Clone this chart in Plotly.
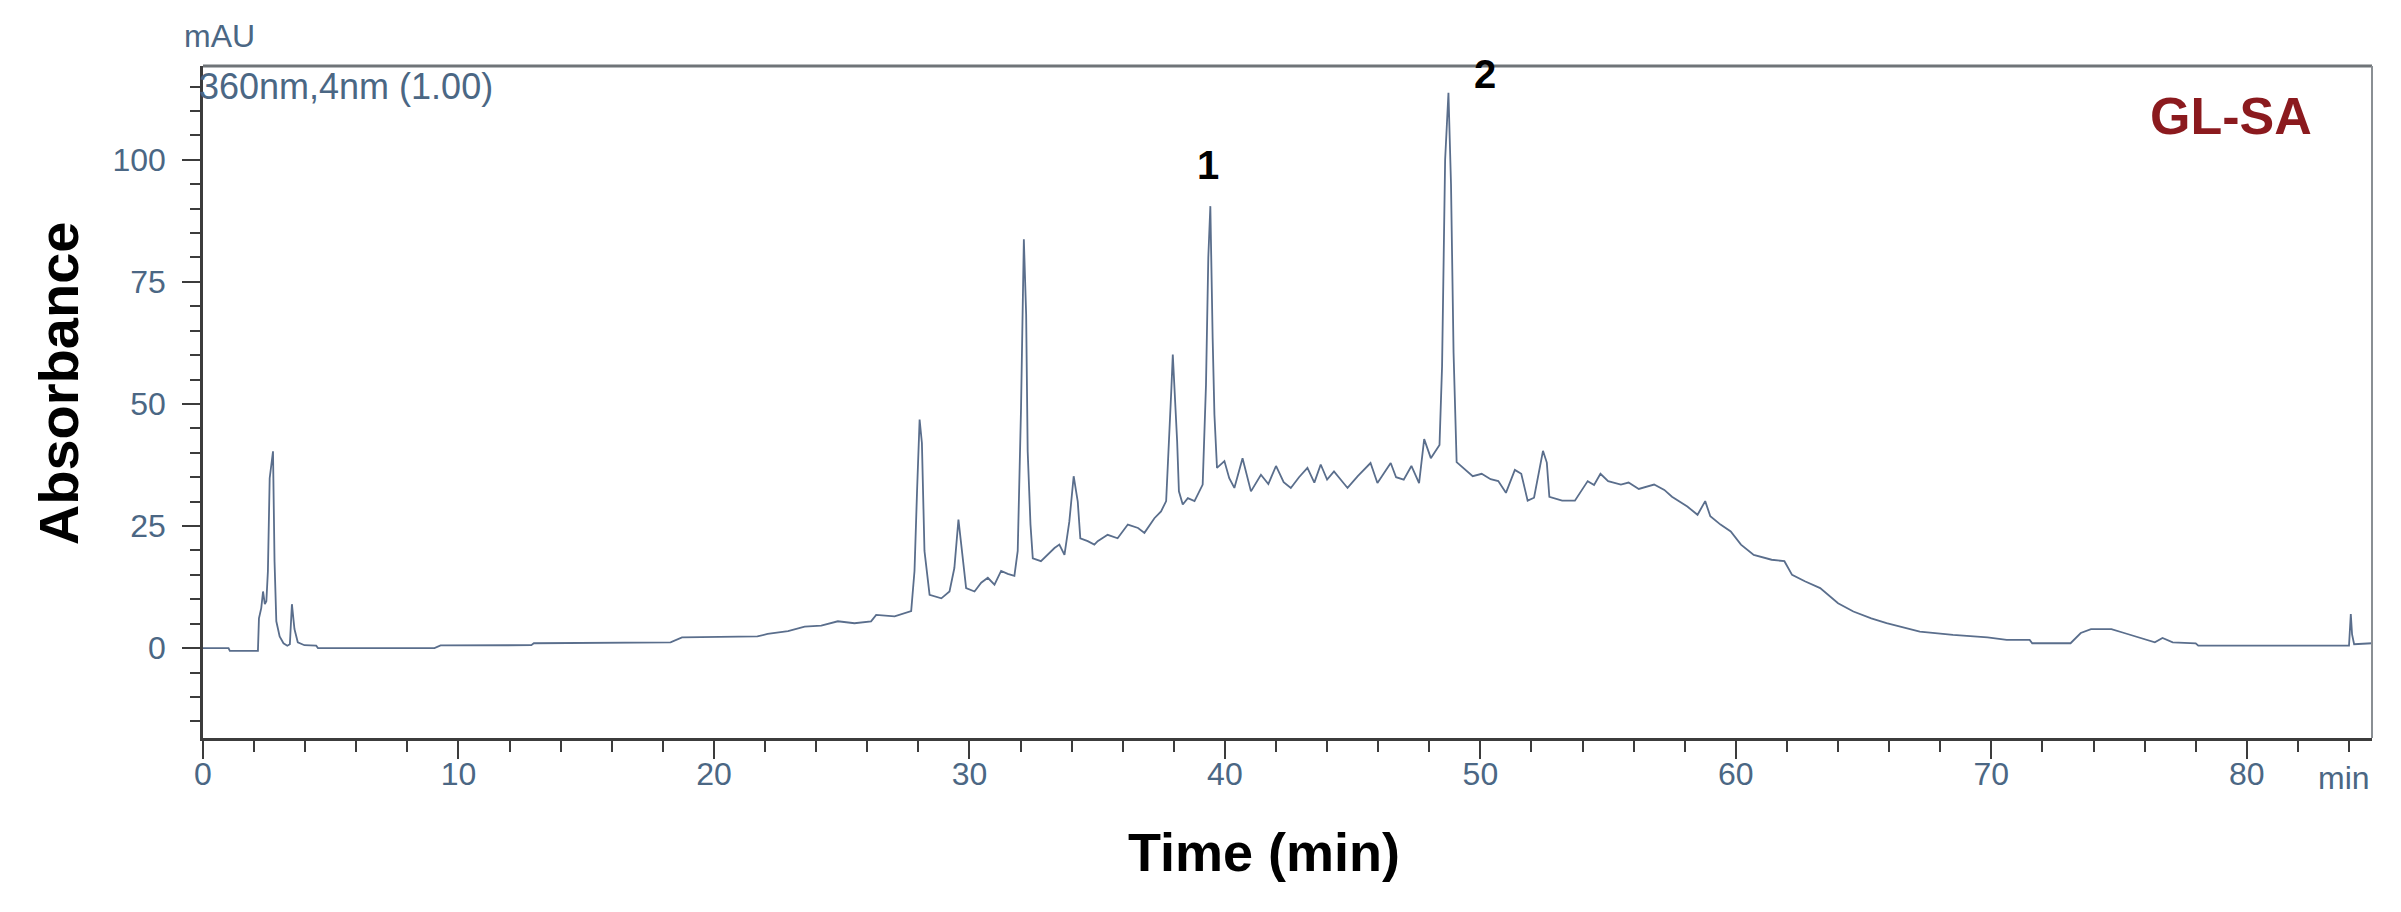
import plotly.graph_objects as go

# chromatogram: retention time (min) and absorbance (mAU)
time_min = [
    0.0, 1.0, 1.05, 2.15, 2.19, 2.28, 2.35, 2.42, 2.48, 2.54, 2.61, 2.74, 2.80, 2.87,
    3.00, 3.15, 3.30, 3.40, 3.48, 3.58, 3.71, 3.97, 4.43, 4.50, 9.06, 9.30, 12.85,
    12.95, 18.3, 18.75, 21.7, 22.1, 22.9, 23.55, 24.2, 24.85, 25.5, 26.15, 26.35,
    27.07, 27.72, 27.85, 27.95, 28.05, 28.14, 28.24, 28.44, 28.9, 29.22, 29.41,
    29.57, 29.67, 29.87, 30.2, 30.46, 30.72, 30.98, 31.24, 31.5, 31.76, 31.89,
    32.02, 32.13, 32.22, 32.28, 32.39, 32.48, 32.8, 33.07, 33.33, 33.52, 33.72,
    33.91, 34.08, 34.24, 34.34, 34.63, 34.89, 35.02, 35.41, 35.8, 36.2, 36.6,
    36.85, 37.24, 37.5, 37.7, 37.8, 37.9, 37.96, 38.05, 38.13, 38.2, 38.35, 38.55,
    38.81, 39.13, 39.26, 39.35, 39.43, 39.52, 39.59, 39.69, 39.98, 40.17, 40.37,
    40.69, 41.02, 41.41, 41.7, 42.0, 42.3, 42.58, 42.9, 43.23, 43.5, 43.75, 44.0,
    44.27, 44.5, 44.8, 45.2, 45.7, 45.97, 46.2, 46.49, 46.7, 47.0, 47.3, 47.6, 47.8,
    48.06, 48.4, 48.5, 48.62, 48.75, 48.85, 48.95, 49.07, 49.4, 49.7, 50.05, 50.4,
    50.7, 51.0, 51.35, 51.6, 51.85, 52.1, 52.45, 52.6, 52.7, 53.2, 53.7, 54.2,
    54.45, 54.7, 55.0, 55.5, 55.8, 56.2, 56.8, 57.2, 57.5, 58.1, 58.5, 58.8, 59.0,
    59.4, 59.8, 60.2, 60.7, 61.4, 61.9, 62.2, 62.7, 63.3, 64.0, 64.6, 65.3, 65.9,
    67.2, 68.5, 69.85, 70.6, 71.5, 71.6, 73.1, 73.5, 73.9, 74.7, 75.2, 75.9, 76.4,
    76.7, 77.1, 78.0, 78.1, 84.0, 84.07, 84.12, 84.2, 84.9,
]
absorbance = [
    0.0, 0.0, -0.55, -0.55, 6.1, 8.2, 11.6, 9.0, 9.6, 15.7, 34.8, 40.3, 17.8, 5.5,
    2.4, 1.0, 0.5, 0.8, 9.0, 3.9, 1.2, 0.6, 0.5, 0.0, 0.0, 0.55, 0.6,
    1.0, 1.2, 2.2, 2.4, 2.9, 3.5, 4.4, 4.6, 5.5, 5.1, 5.5, 6.8,
    6.5, 7.6, 15.8, 32.2, 46.8, 42.0, 19.9, 10.9, 10.2, 11.6, 16.4,
    26.3, 21.9, 12.3, 11.6, 13.4, 14.4, 13.0, 15.8, 15.2, 14.8, 19.9,
    49.2, 83.7, 68.3, 40.3, 25.3, 18.4, 17.8, 19.1, 20.5, 21.2, 19.1,
    25.9, 35.2, 30.0, 22.5, 21.9, 21.2, 21.9, 23.2, 22.5, 25.3, 24.6,
    23.6, 26.6, 28.0, 30.1, 40.3, 52.6, 60.1, 51.2, 42.4, 32.1, 29.4, 30.7,
    30.1, 33.5, 54.0, 80.0, 90.5, 63.5, 47.8, 36.9, 38.3, 34.8, 32.8,
    38.9, 32.1, 35.5, 33.6, 37.3, 34.0, 32.8, 35.0, 36.9, 33.9, 37.6, 34.5,
    36.2, 34.8, 32.8, 35.2, 37.9, 33.8, 35.5, 37.9, 35.0, 34.5, 37.3, 33.8, 42.8,
    38.9, 41.6, 57.7, 100.0, 113.7, 95.0, 60.5, 38.1, 36.5, 35.2, 35.7, 34.6,
    34.2, 31.8, 36.5, 35.7, 30.2, 30.8, 40.4, 38.0, 31.0, 30.2, 30.2, 34.2,
    33.4, 35.7, 34.2, 33.5, 33.9, 32.6, 33.5, 32.4, 31.0, 29.0, 27.3, 30.1, 27.0,
    25.3, 23.9, 21.2, 19.1, 18.1, 17.8, 15.0, 13.7, 12.3, 9.2, 7.5, 6.1, 5.1,
    3.4, 2.7, 2.2, 1.7, 1.7, 1.0, 1.0, 3.1, 3.9, 3.9, 3.1, 1.9, 1.2,
    2.1, 1.2, 1.0, 0.5, 0.5, 7.0, 2.8, 0.8, 1.0,
]

peak_names = ["1", "2"]
sample_name = "GL-SA"

tick_blue = "#4b6784"
axis_dark = "#3c3c3c"

fig = go.Figure()
fig.add_trace(go.Scatter(
    x=time_min, y=absorbance, mode="lines",
    line=dict(color="#5a6e8c", width=1.8),
    hoverinfo="x+y",
))

# top and right frame lines are lighter than the axes
fig.add_shape(type="line", xref="paper", yref="paper", x0=0, x1=1, y0=1, y1=1,
              line=dict(color="#6f7478", width=3))
fig.add_shape(type="line", xref="paper", yref="paper", x0=1, x1=1, y0=0, y1=1,
              line=dict(color="#8a8f94", width=2))

# peak labels
fig.add_annotation(x=39.35, y=99, text="<b>" + peak_names[0] + "</b>", showarrow=False,
                   xanchor="center", yanchor="middle",
                   font=dict(family="Liberation Sans", size=40, color="black"))
fig.add_annotation(x=50.2, y=117.6, text="<b>" + peak_names[1] + "</b>", showarrow=False,
                   xanchor="center", yanchor="middle",
                   font=dict(family="Liberation Sans", size=40, color="black"))

# sample name
fig.add_annotation(xref="paper", yref="paper", x=0.935, y=0.925, text="<b>" + sample_name + "</b>",
                   showarrow=False, xanchor="center", yanchor="middle",
                   font=dict(family="Liberation Sans", size=52, color="#8b1a1e"))

# instrument style labels
fig.add_annotation(xref="paper", yref="paper", x=0, y=1, xshift=16, yshift=30,
                   xanchor="center", yanchor="middle", text="mAU", showarrow=False,
                   font=dict(family="Liberation Sans", size=32, color=tick_blue))
fig.add_annotation(xref="paper", yref="paper", x=0, y=1, xshift=-6, yshift=2,
                   xanchor="left", yanchor="top", text="360nm,4nm (1.00)", showarrow=False,
                   font=dict(family="Liberation Sans", size=36, color=tick_blue))
fig.add_annotation(xref="x", yref="paper", x=83.8, y=0, yshift=-40,
                   xanchor="center", yanchor="middle", text="min", showarrow=False,
                   font=dict(family="Liberation Sans", size=32, color=tick_blue))

# axis titles
fig.add_annotation(xref="paper", yref="paper", x=0, y=0.528, xshift=-145,
                   xanchor="center", yanchor="middle", textangle=-90, text="<b>Absorbance</b>",
                   showarrow=False, font=dict(family="Liberation Sans", size=56, color="black"))
fig.add_annotation(xref="paper", yref="paper", x=0.489, y=0, yshift=-114,
                   xanchor="center", yanchor="middle", text="<b>Time (min)</b>",
                   showarrow=False, font=dict(family="Liberation Sans", size=54, color="black"))

fig.update_layout(
    width=2401, height=912,
    margin=dict(l=195, r=37, t=58, b=182),
    paper_bgcolor="white", plot_bgcolor="white",
    showlegend=False,
    font=dict(family="Liberation Sans", color=tick_blue),
)
fig.update_xaxes(
    range=[0, 84.9], dtick=10, tick0=0,
    showgrid=False, zeroline=False,
    showline=True, linecolor=axis_dark, linewidth=2.5,
    ticks="outside", ticklen=18, tickwidth=2, tickcolor=axis_dark,
    tickfont=dict(size=32, color=tick_blue),
    minor=dict(dtick=2, tick0=0, ticks="outside", ticklen=11, tickwidth=1.5, tickcolor=axis_dark),
    ticklabelstandoff=-12,
)
fig.update_yaxes(
    range=[-18.4, 119.2], dtick=25, tick0=0,
    showgrid=False, zeroline=False,
    showline=True, linecolor=axis_dark, linewidth=2.5,
    ticks="outside", ticklen=18, tickwidth=2, tickcolor=axis_dark,
    tickfont=dict(size=32, color=tick_blue),
    minor=dict(dtick=5, tick0=0, ticks="outside", ticklen=10, tickwidth=1.5, tickcolor=axis_dark),
    ticklabelstandoff=10,
)

fig.write_html("out.html")
